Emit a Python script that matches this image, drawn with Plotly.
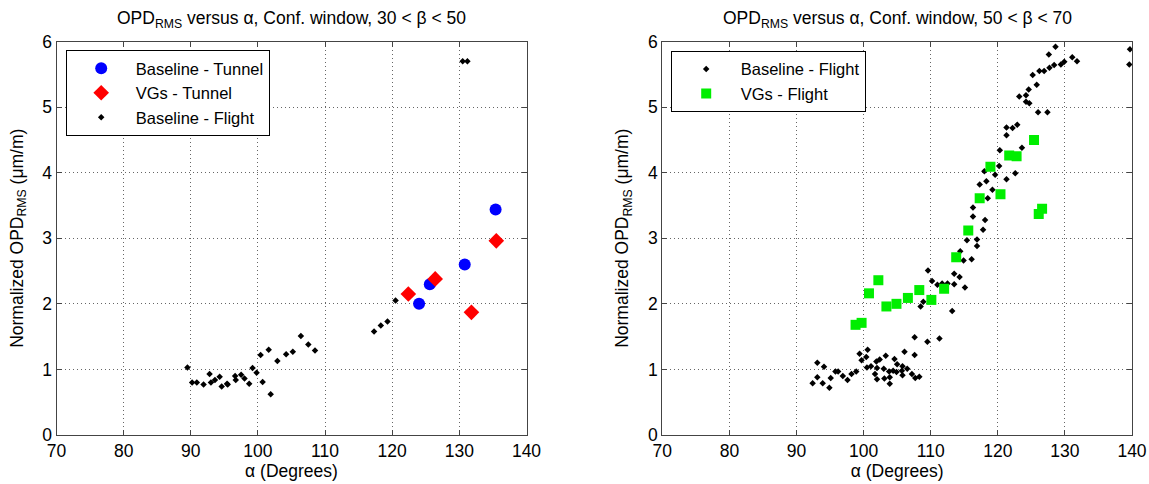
import plotly.graph_objects as go

# ---------------- data: left panel (30 < beta < 50) ----------------
left_tunnel_base_x = [124.0, 125.6, 130.8, 135.4]
left_tunnel_base_y = [2.00, 2.30, 2.60, 3.44]
left_tunnel_vg_x = [122.4, 126.4, 131.8, 135.5]
left_tunnel_vg_y = [2.15, 2.38, 1.87, 2.96]
left_flight_x = [89.5, 90.2, 90.9, 91.9, 92.8, 93.0, 93.6, 94.3, 94.6, 95.4, 95.5,
                 96.6, 96.7, 97.5, 98.0, 98.7, 99.2, 99.8, 100.4, 100.7, 101.6,
                 101.9, 102.9, 104.2, 105.2, 106.4, 107.5, 108.5, 117.3, 118.3,
                 119.3, 120.5, 130.5, 131.2]
left_flight_y = [1.03, 0.80, 0.80, 0.77, 0.93, 0.80, 0.84, 0.89, 0.74, 0.78, 0.77,
                 0.90, 0.84, 0.92, 0.86, 0.78, 1.02, 0.95, 1.22, 0.81, 1.30,
                 0.62, 1.13, 1.23, 1.27, 1.51, 1.38, 1.29, 1.58, 1.67,
                 1.73, 2.05, 5.70, 5.70]

# ---------------- data: right panel (50 < beta < 70) ----------------
right_flight_x = [92.4, 93.1, 93.1, 93.9, 94.1, 94.9, 95.1, 95.8, 96.2, 96.9, 97.6,
                  98.2, 98.9, 99.4, 99.7, 100.4, 100.6, 100.5, 101.1, 101.7, 101.9,
                  102.0, 102.4, 102.0, 103.0, 103.1, 103.3, 103.8, 103.9, 103.9,
                  104.4, 104.6, 104.9, 105.0, 105.7, 105.8, 105.8, 106.1, 106.5,
                  107.2, 107.6, 107.6, 107.7, 108.3, 109.5, 111.3,
                  108.5, 108.9, 109.6, 110.2, 111.0, 111.7, 112.5, 113.2, 113.5,
                  113.5, 114.3, 115.1, 114.4, 114.9, 115.4, 116.1, 116.9, 116.9,
                  117.8, 118.1, 116.3, 116.3, 118.5, 119.2, 117.3, 118.3, 119.6,
                  118.0, 120.2, 121.3, 122.6,
                  128.6, 127.6, 125.2, 126.2, 126.9, 127.7, 128.4, 129.4, 129.9,
                  131.1, 131.8, 139.7, 139.6, 124.6, 125.8, 124.2, 123.2, 124.2,
                  124.7, 126.0, 127.4, 121.3, 122.2, 122.9, 121.3, 123.6, 120.3]
right_flight_y = [0.79, 1.10, 0.88, 0.79, 1.04, 0.72, 0.87, 0.97, 0.97, 0.90, 0.84,
                  0.93, 0.97, 1.24, 1.14, 1.19, 1.30, 1.03, 1.05, 0.93, 1.12,
                  0.85, 1.15, 1.02, 1.01, 0.86, 1.21, 0.97, 0.88, 0.78,
                  0.98, 1.16, 0.96, 1.08, 0.98, 1.05, 0.91, 1.27, 1.01,
                  0.93, 1.49, 1.22, 0.87, 0.89, 1.42, 1.47,
                  1.96, 2.03, 2.51, 2.35, 2.29, 2.31, 2.31, 1.89, 2.46,
                  2.30, 2.41, 2.25, 2.80, 2.66, 2.97, 2.68, 2.98, 2.88,
                  3.13, 3.28, 3.33, 3.47, 3.61, 3.74, 3.82, 3.87, 3.97,
                  4.02, 4.10, 3.90, 3.99,
                  5.92, 5.80, 5.49, 5.55, 5.55, 5.60, 5.64, 5.65, 5.69,
                  5.76, 5.70, 5.88, 5.65, 5.27, 5.34, 5.18, 5.16, 5.08,
                  5.06, 4.92, 4.92, 4.69, 4.68, 4.73, 4.57, 4.38, 4.34]
right_vg_x = [98.8, 99.7, 100.8, 102.2, 103.4, 104.9, 106.6, 108.3, 110.1, 112.0,
              113.8, 115.6, 117.3, 118.9, 120.4, 121.7, 122.8, 125.4, 126.1, 126.6]
right_vg_y = [1.68, 1.71, 2.16, 2.36, 1.96, 2.00, 2.09, 2.21, 2.06, 2.23,
              2.71, 3.12, 3.61, 4.09, 3.67, 4.26, 4.25, 4.50, 3.37, 3.45]

x_ticks = [70, 80, 90, 100, 110, 120, 130, 140]
y_ticks = [0, 1, 2, 3, 4, 5, 6]
titles = ["OPD<sub>RMS</sub> versus α, Conf. window, 30 &lt; β &lt; 50",
          "OPD<sub>RMS</sub> versus α, Conf. window, 50 &lt; β &lt; 70"]

FONT = "Liberation Sans, Arial, sans-serif"
W, H = 1149, 484
FS = 17.5
LFS = 16.5

fig = go.Figure()
fig.add_trace(go.Scatter(x=left_tunnel_base_x, y=left_tunnel_base_y, mode="markers",
                         name="Baseline - Tunnel", xaxis="x", yaxis="y", legend="legend",
                         marker=dict(symbol="circle", size=12, color="#0000ff")))
fig.add_trace(go.Scatter(x=left_tunnel_vg_x, y=left_tunnel_vg_y, mode="markers",
                         name="VGs - Tunnel", xaxis="x", yaxis="y", legend="legend",
                         marker=dict(symbol="diamond", size=12, color="#ff0000")))
fig.add_trace(go.Scatter(x=left_flight_x, y=left_flight_y, mode="markers",
                         name="Baseline - Flight", xaxis="x", yaxis="y", legend="legend",
                         marker=dict(symbol="diamond", size=5, color="black")))
fig.add_trace(go.Scatter(x=right_flight_x, y=right_flight_y, mode="markers",
                         name="Baseline - Flight", xaxis="x2", yaxis="y2", legend="legend2",
                         marker=dict(symbol="diamond", size=5, color="black")))
fig.add_trace(go.Scatter(x=right_vg_x, y=right_vg_y, mode="markers",
                         name="VGs - Flight", xaxis="x2", yaxis="y2", legend="legend2",
                         marker=dict(symbol="square", size=10, color="#00ee00")))

xdom = [[56.5 / W, 526.5 / W], [662.3 / W, 1132 / W]]
ydom = [(H - 435) / H, (H - 41.5) / H]

axis_common = dict(showline=True, mirror="ticks", linecolor="#444", linewidth=1,
                   ticks="inside", ticklen=5, tickcolor="#444", automargin=False,
                   showgrid=True, gridcolor="rgba(0,0,0,0.6)", griddash="1px,3px", gridwidth=1,
                   zeroline=False, tickfont=dict(size=FS, color="black", family=FONT))

for i, (xa, ya) in enumerate([("xaxis", "yaxis"), ("xaxis2", "yaxis2")]):
    fig.layout[xa] = dict(axis_common, domain=xdom[i], range=[70, 140], tickvals=x_ticks,
                          anchor="y" if i == 0 else "y2",
                          title=dict(text="α (Degrees)", standoff=0,
                                     font=dict(size=FS, color="black", family=FONT)))
    fig.layout[ya] = dict(axis_common, domain=ydom, range=[0, 6], tickvals=y_ticks,
                          anchor="x" if i == 0 else "x2",
                          title=dict(text="Normalized OPD<sub>RMS</sub> (μm/m)", standoff=14,
                                     font=dict(size=FS, color="black", family=FONT)))

for i in range(2):
    fig.add_annotation(text=titles[i], xref="paper", yref="paper",
                       x=(xdom[i][0] + xdom[i][1]) / 2, y=(H - 20) / H,
                       xanchor="center", yanchor="middle", showarrow=False,
                       font=dict(size=FS, color="black", family=FONT))

legend_common = dict(xanchor="left", yanchor="top", bgcolor="white", bordercolor="black",
                     borderwidth=1, font=dict(size=LFS, color="black", family=FONT),
                     itemwidth=59, tracegroupgap=0)
fig.update_layout(
    width=W, height=H,
    margin=dict(l=0, r=0, t=0, b=0, autoexpand=False),
    paper_bgcolor="white", plot_bgcolor="white",
    font=dict(family=FONT, color="black", size=FS),
    legend=dict(legend_common, x=65.7 / W, y=(H - 50) / H),
    legend2=dict(legend_common, x=670.7 / W, y=(H - 50.7) / H),
    showlegend=True,
)

fig.write_html("out.html", config={"displayModeBar": False},
               post_script="document.body.style.margin='0';document.body.style.overflow='hidden';")
